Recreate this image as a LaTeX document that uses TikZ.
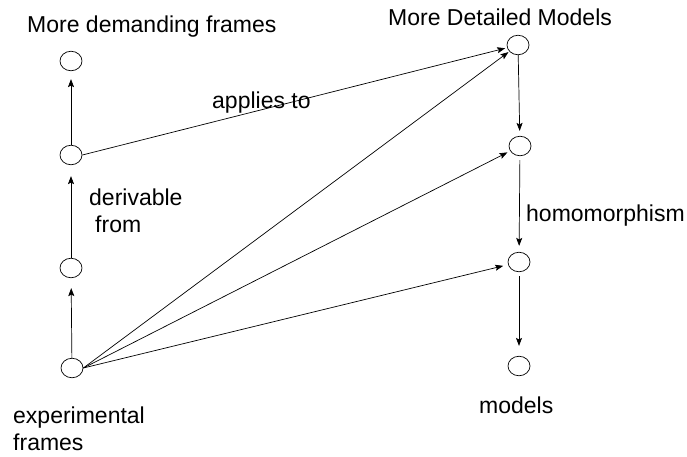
\documentclass[tikz,border=0pt]{standalone}
\usepackage{fontspec}
\setmainfont{Liberation Sans}
\usetikzlibrary{shapes.geometric,arrows.meta}
\begin{document}
\begin{tikzpicture}[x=1pt,y=-1pt,
  blob/.style={draw, ellipse, minimum width=22pt, minimum height=19.5pt, inner sep=0pt, line width=0.7pt},
  conn/.style={draw, line width=0.7pt, -{Stealth[length=8pt,width=6pt,inset=1.5pt]}},
  lab/.style={anchor=base west, inner sep=0pt, font=\fontsize{23}{27}\selectfont}]
\useasboundingbox (0,0) rectangle (687,456);
% left column
\node[blob] (l1) at (71,61) {};
\node[blob] (l2) at (71,155) {};
\node[blob] (l3) at (71,268) {};
\node[blob] (l4) at (72,368) {};
% right column
\node[blob] (r1) at (518,45) {};
\node[blob] (r2) at (520,146) {};
\node[blob] (r3) at (519,262) {};
\node[blob] (r4) at (519,366) {};
% labels
\node[lab] (tmdf) at (27,32) {More demanding frames};
\node[lab] (tmdm) at (388,25) {More Detailed Models};
\node[lab] (tapp) at (212,108) {applies to};
\node[lab] (tder) at (89,205) {derivable};
\node[lab] (tfrom) at (95,232) {from};
\node[lab] (thom) at (526,221) {homomorphism};
\node[lab] (tmod) at (479,413) {models};
\node[lab] (texp) at (13,423) {experimental};
\node[lab] (tfr) at (13,450) {frames};
% left vertical arrows
\draw[conn, shorten >=8pt] (l2) -- (l1);
\draw[conn, shorten >=11pt] (l3) -- (l2);
\draw[conn, shorten >=10pt] (l4) -- (l3);
% right vertical arrows
\draw[conn, shorten >=5pt] (r1) -- (r2);
\draw[conn, shorten <=4pt, shorten >=6pt] (r2) -- (r3);
\draw[conn, shorten <=4pt, shorten >=10pt] (r3) -- (r4);
% diagonal arrows
\draw[conn, shorten >=2pt] (l2.east) -- (r1);
\draw[conn, shorten >=1pt] (l4.east) -- (r1);
\draw[conn, shorten >=3pt] (l4.east) -- (r2);
\draw[conn, shorten >=5pt] (l4.east) -- (r3);
\end{tikzpicture}
\end{document}
